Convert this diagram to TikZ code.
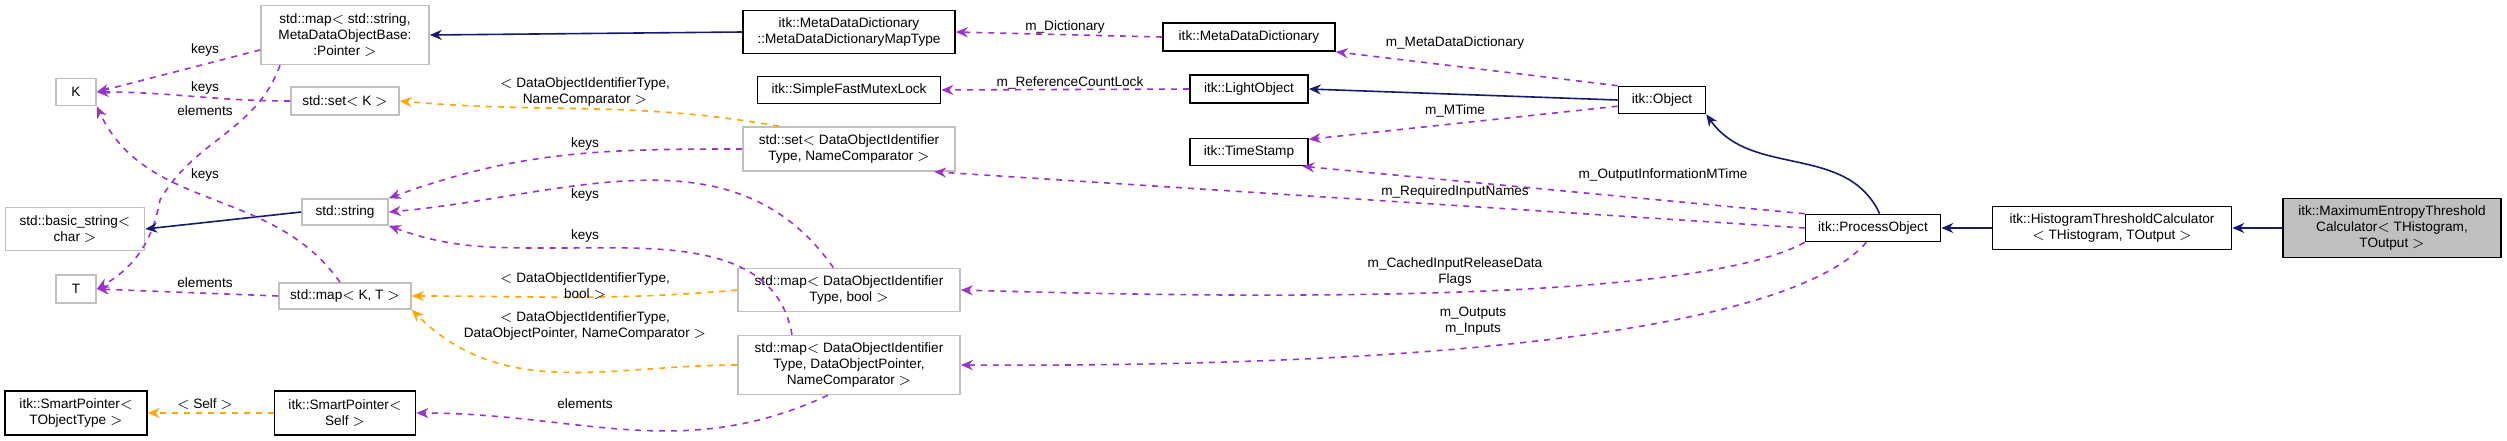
\documentclass[tikz,border=0pt]{standalone}
\usepackage{fontspec}
\setmainfont{Liberation Sans}
\usetikzlibrary{arrows.meta}
\definecolor{pur}{HTML}{9A32CD}
\definecolor{org}{HTML}{FFA500}
\definecolor{nav}{HTML}{191970}
\definecolor{gbd}{HTML}{BFBFBF}
\begin{document}
\begin{tikzpicture}[x=0.5pt,y=-0.5pt,
  font=\fontsize{6.8pt}{8pt}\selectfont,
  box/.style={draw=black,thick,align=center,inner sep=0pt,fill=white},
  sbox/.style={draw=gbd,thick,align=center,inner sep=0pt,fill=white},
  mem/.style={draw=pur,dashed,thick,-{Stealth[length=6pt,width=5pt]}},
  tpl/.style={draw=org,dashed,thick,-{Stealth[length=6pt,width=5pt]}},
  inh/.style={draw=nav,thick,-{Stealth[length=6pt,width=5pt]}},
  lbl/.style={align=center,inner sep=0pt}]
\useasboundingbox (0,0) rectangle (2507,440);
% nodes
\node[sbox,minimum width=84pt,minimum height=29.5pt] (mstr) at (345,35) {std::map$<$ std::string,\\ MetaDataObjectBase:\\ :Pointer $>$};
\node[sbox,minimum width=20pt,minimum height=13.5pt] (K) at (76,92) {K};
\node[sbox,minimum width=54pt,minimum height=14pt] (setK) at (345,101) {std::set$<$ K $>$};
\node[sbox,minimum width=69.5pt,minimum height=21.5pt] (bstr) at (75,229) {std::basic\_string$<$\\ char $>$};
\node[sbox,minimum width=43pt,minimum height=13pt] (str) at (345,212) {std::string};
\node[sbox,minimum width=20pt,minimum height=14pt] (T) at (76,289) {T};
\node[sbox,minimum width=66pt,minimum height=13pt] (mKT) at (345,296) {std::map$<$ K, T $>$};
\node[box,minimum width=71pt,minimum height=22pt] (spT) at (76,413) {itk::SmartPointer$<$\\ TObjectType $>$};
\node[box,minimum width=70.5pt,minimum height=22pt] (spS) at (345,413) {itk::SmartPointer$<$\\ Self $>$};
\node[box,minimum width=106pt,minimum height=21.5pt] (mddm) at (849,32) {itk::MetaDataDictionary\\ ::MetaDataDictionaryMapType};
\node[box,minimum width=91.5pt,minimum height=13.5pt] (sfml) at (849,90) {itk::SimpleFastMutexLock};
\node[sbox,minimum width=106pt,minimum height=22pt] (setD) at (849,149) {std::set$<$ DataObjectIdentifier\\ Type, NameComparator $>$};
\node[sbox,minimum width=111pt,minimum height=21.5pt] (mapB) at (849,290) {std::map$<$ DataObjectIdentifier\\ Type, bool $>$};
\node[sbox,minimum width=111pt,minimum height=29.5pt] (mapP) at (849,365) {std::map$<$ DataObjectIdentifier\\ Type, DataObjectPointer,\\ NameComparator $>$};
\node[box,minimum width=86pt,minimum height=14pt] (mdd) at (1249,37) {itk::MetaDataDictionary};
\node[box,minimum width=59pt,minimum height=14pt] (lo) at (1249,89) {itk::LightObject};
\node[box,minimum width=59pt,minimum height=13.5pt] (ts) at (1249,152) {itk::TimeStamp};
\node[box,minimum width=43.5pt,minimum height=13.5pt] (obj) at (1662,100) {itk::Object};
\node[box,minimum width=67.5pt,minimum height=13.5pt] (po) at (1873,228) {itk::ProcessObject};
\node[box,minimum width=119.5pt,minimum height=21.5pt] (htc) at (2112,228) {itk::HistogramThresholdCalculator\\ $<$ THistogram, TOutput $>$};
\node[box,fill=gbd,minimum width=109pt,minimum height=29.5pt] (me) at (2392,228) {itk::MaximumEntropyThreshold\\ Calculator$<$ THistogram,\\ TOutput $>$};
% edges
\draw[inh] (mddm.west) -- (mstr.east);
\draw[mem] (mstr.190) -- (K.east);
\node[lbl] (l1) at (205,50) {keys};
\draw[mem] (mstr.205) to[out=250,in=60] (160,200) to[out=-100,in=30] (T.east);
\node[lbl] (l2) at (205,111) {elements};
\draw[mem] (setK.west) to[out=180,in=0] (K.east);
\node[lbl] (l3) at (205,88) {keys};
\draw[tpl] (setD.162) to[out=170,in=-5] (setK.east);
\node[lbl] (l4) at (585,92) {$<$ DataObjectIdentifierType,\\ NameComparator $>$};
\draw[mem] (setD.west) to[out=180,in=20] (str.north east);
\node[lbl] (l5) at (585,144) {keys};
\draw[mem] (mapB.125) to[out=125,in=5] (str.east);
\node[lbl] (l6) at (585,195) {keys};
\draw[mem] (mapP.152) to[out=100,in=0] (560,248) to[out=180,in=-20] (str.south east);
\node[lbl] (l7) at (585,236) {keys};
\draw[inh] (str.west) -- (bstr.east);
\draw[mem] (mKT.110) to[out=125,in=-65] (K.south east);
\node[lbl] (l8) at (205,175) {keys};
\draw[mem] (mKT.west) -- (T.east);
\node[lbl] (l9) at (205,283) {elements};
\draw[tpl] (mapB.west) to[out=185,in=0] (mKT.east);
\node[lbl] (l10) at (585,286) {$<$ DataObjectIdentifierType,\\ bool $>$};
\draw[tpl] (mapP.west) to[out=180,in=-45] (mKT.south east);
\node[lbl] (l11) at (585,326) {$<$ DataObjectIdentifierType,\\ DataObjectPointer, NameComparator $>$};
\draw[tpl] (spS.west) -- (spT.east);
\node[lbl] (l12) at (205,404) {$<$ Self $>$};
\draw[mem] (mapP.-125) to[out=-155,in=0] (spS.east);
\node[lbl] (l13) at (585,404) {elements};
\draw[mem] (mdd.west) -- (mddm.east);
\node[lbl] (l14) at (1065,27) {m\_Dictionary};
\draw[mem] (obj.north west) -- (mdd.south east);
\node[lbl] (l15) at (1455,43) {m\_MetaDataDictionary};
\draw[mem] (lo.west) -- (sfml.east);
\node[lbl] (l16) at (1070,83) {m\_ReferenceCountLock};
\draw[inh] (obj.west) -- (lo.east);
\draw[mem] (obj.188) -- (ts.12);
\node[lbl] (l17) at (1455,111) {m\_MTime};
\draw[mem] (po.north west) -- (ts.-15);
\node[lbl] (l18) at (1663,175) {m\_OutputInformationMTime};
\draw[mem] (po.west) -- (setD.-15);
\node[lbl] (l19) at (1455,192) {m\_RequiredInputNames};
\draw[mem] (po.south west) .. controls (1700,300) and (1300,300) .. (mapB.east);
\node[lbl] (l20) at (1455,272) {m\_CachedInputReleaseData\\ Flags};
\draw[mem] (po.-115) .. controls (1800,320) and (1500,368) .. (mapP.east);
\node[lbl] (l21) at (1473,321) {m\_Outputs\\ m\_Inputs};
\draw[inh] (po.65) to[out=115,in=-55] (obj.south east);
\draw[inh] (htc.west) -- (po.east);
\draw[inh] (me.west) -- (htc.east);
\end{tikzpicture}
\end{document}
